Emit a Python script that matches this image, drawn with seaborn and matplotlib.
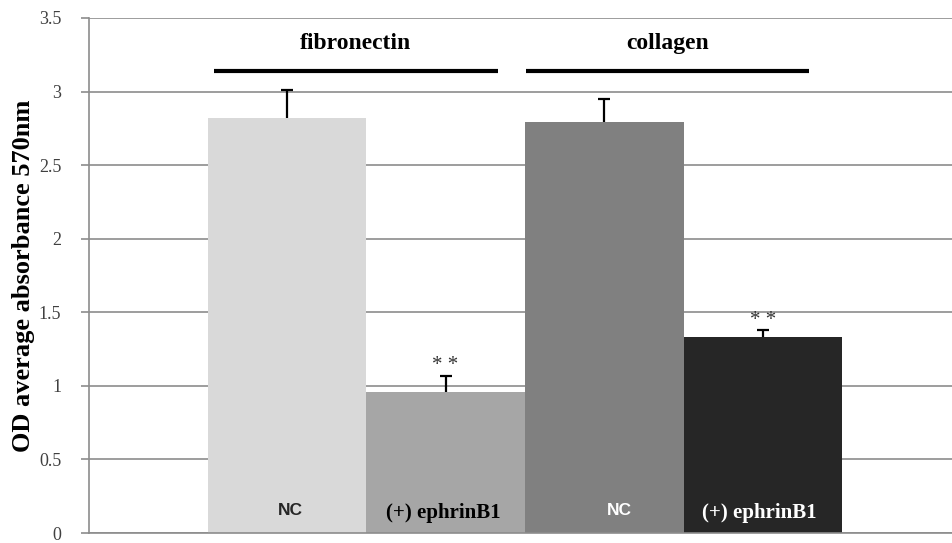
import matplotlib
matplotlib.use("Agg")
import matplotlib.pyplot as plt
import seaborn as sns
import pandas as pd
import numpy as np

groups = ["fibronectin", "fibronectin", "collagen", "collagen"]
conditions = ["NC", "(+) ephrinB1", "NC", "(+) ephrinB1"]
values = [2.82, 0.96, 2.79, 1.33]
errors = [0.19, 0.11, 0.16, 0.05]
colors = ["#d9d9d9", "#a6a6a6", "#808080", "#262626"]
text_colors = ["#262626", "black", "white", "white"]
stars = ["", "* *", "", "* *"]
yticks = [0, 0.5, 1, 1.5, 2, 2.5, 3, 3.5]
ytick_labels = ["0", "0.5", "1", "1.5", "2", "2.5", "3", "3.5"]
group_names = ["fibronectin", "collagen"]

# styling (label nudges, in bar widths)
label_dx = [0.025, -0.015, 0.095, -0.022]

sns.set_theme(style="white")
plt.rcParams["font.family"] = ["Liberation Serif", "DejaVu Serif"]

df = pd.DataFrame({"key": [f"{g} {c}" for g, c in zip(groups, conditions)],
                   "value": values})

fig = plt.figure(figsize=(9.52, 5.43), dpi=100)
ax = fig.add_axes([89 / 952, 10 / 543, 1 - 89 / 952 + 0.004, 515 / 543])

sns.barplot(data=df, x="key", y="value", hue="key", palette=colors,
            width=1.0, legend=False, ax=ax, zorder=2, linewidth=0)

x = np.arange(len(values))
tops = np.array(values) + np.array(errors)
ax.errorbar(x, values, yerr=[np.zeros(len(errors)), errors], fmt="none",
            ecolor="black", elinewidth=1.6, capsize=0, zorder=1.5)
ax.plot(x, tops, ls="none", marker="_", ms=8.5, mew=1.6, color="black",
        zorder=3)

for xi, t, s in zip(x, tops, stars):
    if s:
        ax.text(xi, t + 0.065, s, ha="center", va="center", fontsize=15,
                color="#333333")

for xi, c, tc, dx in zip(x, conditions, text_colors, label_dx):
    if c == "NC":
        ax.text(xi + dx, 0.15, c, ha="center", va="center", fontsize=12.5,
                fontweight="bold", color=tc, family=["Liberation Sans", "DejaVu Sans"])
    else:
        ax.text(xi + dx, 0.135, c, ha="center", va="center", fontsize=15,
                fontweight="bold", color=tc)

# group labels with lines
line_spans = [(-0.462, 1.332), (1.509, 3.290)]
for name, (a, b) in zip(group_names, line_spans):
    ax.plot([a, b], [3.143, 3.143], color="black", lw=3,
            solid_capstyle="butt", clip_on=False, zorder=4)
    ax.text((a + b) / 2, 3.33, name, ha="center", va="center", fontsize=17,
            fontweight="bold", color="black")

ax.set_xlim(-1.247, 4.215)
ax.set_ylim(0, 3.5)
ax.set_yticks(yticks)
ax.set_yticklabels(ytick_labels, fontsize=13, color="#404040")
ax.set_xticks([])
ax.set_xlabel("")
ax.set_ylabel("OD average absorbance 570nm", fontsize=19, fontweight="bold",
              color="black")
ax.yaxis.set_label_coords(-0.062, 0.5)
ax.yaxis.grid(True, color="#8c8c8c", lw=1.2, zorder=0)
ax.set_axisbelow(True)
for side in ["top", "right"]:
    ax.spines[side].set_visible(False)
for side in ["left", "bottom"]:
    ax.spines[side].set_color("#8c8c8c")
    ax.spines[side].set_linewidth(1.2)
ax.tick_params(axis="y", which="major", direction="out", length=6, width=1.2,
               color="#8c8c8c", left=True, pad=14)

fig.savefig("out.png", dpi=100)
